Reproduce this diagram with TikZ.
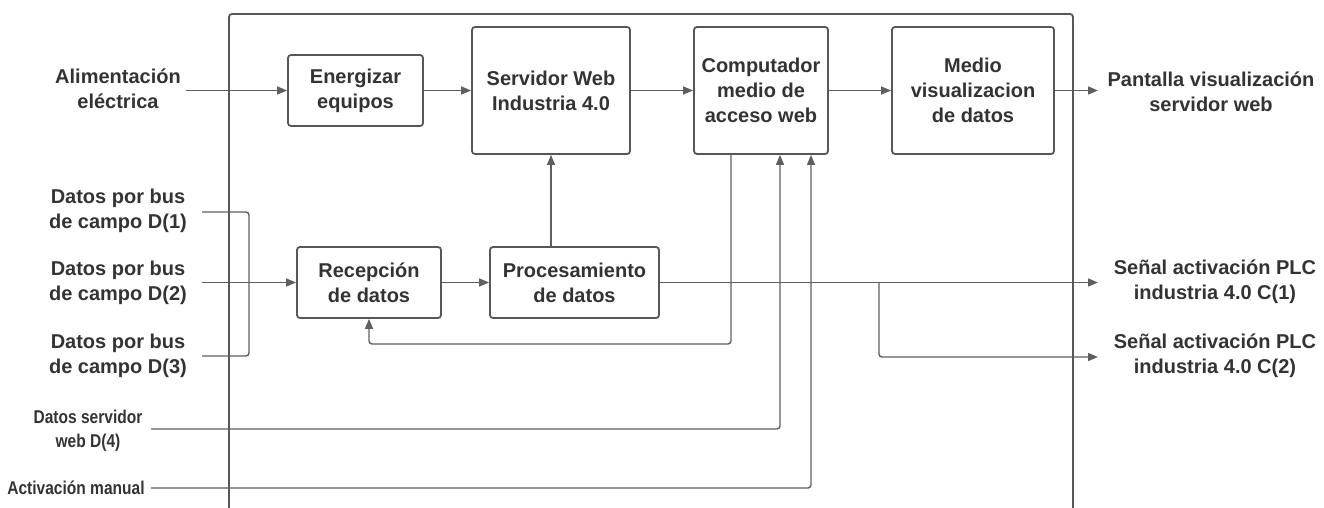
\documentclass[tikz,border=0pt]{standalone}
\usepackage{fontspec}
\setmainfont{Liberation Sans}
\newfontfamily\condbold[FakeStretch=0.84]{Liberation Sans}
\usetikzlibrary{arrows.meta}
\definecolor{ink}{HTML}{333333}
\definecolor{wire}{HTML}{5F5F5F}
\definecolor{frame}{HTML}{575757}

\begin{document}
\begin{tikzpicture}[x=1pt,y=-1pt,
  block/.style={draw=frame, line width=1.8pt, rounded corners=3pt, fill=white,
    text=ink, font=\bfseries\fontsize{20}{25}\selectfont, align=center, inner sep=0pt},
  lbl/.style={text=ink, font=\bfseries\fontsize{20}{25}\selectfont, align=center, inner sep=0pt},
  smalllbl/.style={text=ink, font=\condbold\bfseries\fontsize{18.5}{24}\selectfont, align=center, inner sep=0pt},
  link/.style={draw=wire, line width=1.4pt, rounded corners=3pt},
  arr/.style={link, -{Triangle[length=10pt,width=8pt]}}
]
\useasboundingbox (0,0) rectangle (1324,508);

% enclosing system boundary
\draw[frame, line width=1.8pt, rounded corners=3pt] (229,508) -- (229,14) -- (1073,14) -- (1073,508);

% functional blocks
\node[block, minimum width=135pt, minimum height=71pt] (ener) at (355.5,90.5) {Energizar\\equipos};
\node[block, minimum width=158pt, minimum height=127pt] (serv) at (551,90.5) {Servidor Web\\Industria 4.0};
\node[block, minimum width=134pt, minimum height=127pt] (comp) at (761,90.5) {Computador\\medio de\\acceso web};
\node[block, minimum width=162pt, minimum height=127pt] (medio) at (973,90.5) {Medio\\visualizacion\\de datos};
\node[block, minimum width=144pt, minimum height=71pt] (recep) at (369,282.5) {Recepción\\de datos};
\node[block, minimum width=169pt, minimum height=71pt] (proc) at (574.5,282.5) {Procesamiento\\de datos};

% external inputs and outputs
\node[lbl] (alim) at (118,89) {Alimentación\\eléctrica};
\node[lbl] (bus1) at (118,211) {Datos por bus\\de campo D(1)};
\node[lbl] (bus2) at (118,283) {Datos por bus\\de campo D(2)};
\node[lbl] (bus3) at (118,356) {Datos por bus\\de campo D(3)};
\node[smalllbl] (dsw) at (88,431) {Datos servidor\\web D(4)};
\node[smalllbl] (man) at (76,488) {Activación manual};
\node[lbl] (pant) at (1211,92) {Pantalla visualización\\servidor web};
\node[lbl] (plc1) at (1215,282) {Señal activación PLC\\industria 4.0 C(1)};
\node[lbl] (plc2) at (1215,356) {Señal activación PLC\\industria 4.0 C(2)};

% connector end points
\coordinate (alimOut) at (186,90.5);
\coordinate (pantIn) at (1098,90.5);
\coordinate (d1) at (202,212);
\coordinate (d2) at (202,282.5);
\coordinate (d3) at (202,356);
\coordinate (join) at (249,282.5);
\coordinate (ws) at (151,429);
\coordinate (am) at (151,488);
\coordinate (fbk) at (731,344);
\coordinate (c1) at (1098,282.5);
\coordinate (c2) at (1098,357);
\coordinate (split) at (879,282.5);

% top chain
\draw[arr] (alimOut) -- (ener.west);
\draw[arr] (ener.east) -- (serv.west);
\draw[arr] (serv.east) -- (comp.west);
\draw[arr] (comp.east) -- (medio.west);
\draw[arr] (medio.east) -- (pantIn);

% field bus inputs
\draw[link] (d1) -- (join |- d1) -- (join);
\draw[link] (d3) -- (join |- d3) -- (join);
\draw[arr] (d2) -- (recep.west);

% reception and processing
\draw[arr] (recep.east) -- (proc.west);
\draw[arr] (serv.south |- proc.north) -- (serv.south);
\draw[arr] ([xshift=-30pt]comp.south) -- (fbk) -- (recep.south |- fbk) -- (recep.south);

% inputs to the computer
\draw[arr] (ws) -- ([xshift=19pt]comp.south |- ws) -- ([xshift=19pt]comp.south);
\draw[arr] (am) -- ([xshift=50pt]comp.south |- am) -- ([xshift=50pt]comp.south);

% PLC activation outputs
\draw[arr] (proc.east) -- (c1);
\draw[arr] (split) -- (split |- c2) -- (c2);
\end{tikzpicture}
\end{document}
